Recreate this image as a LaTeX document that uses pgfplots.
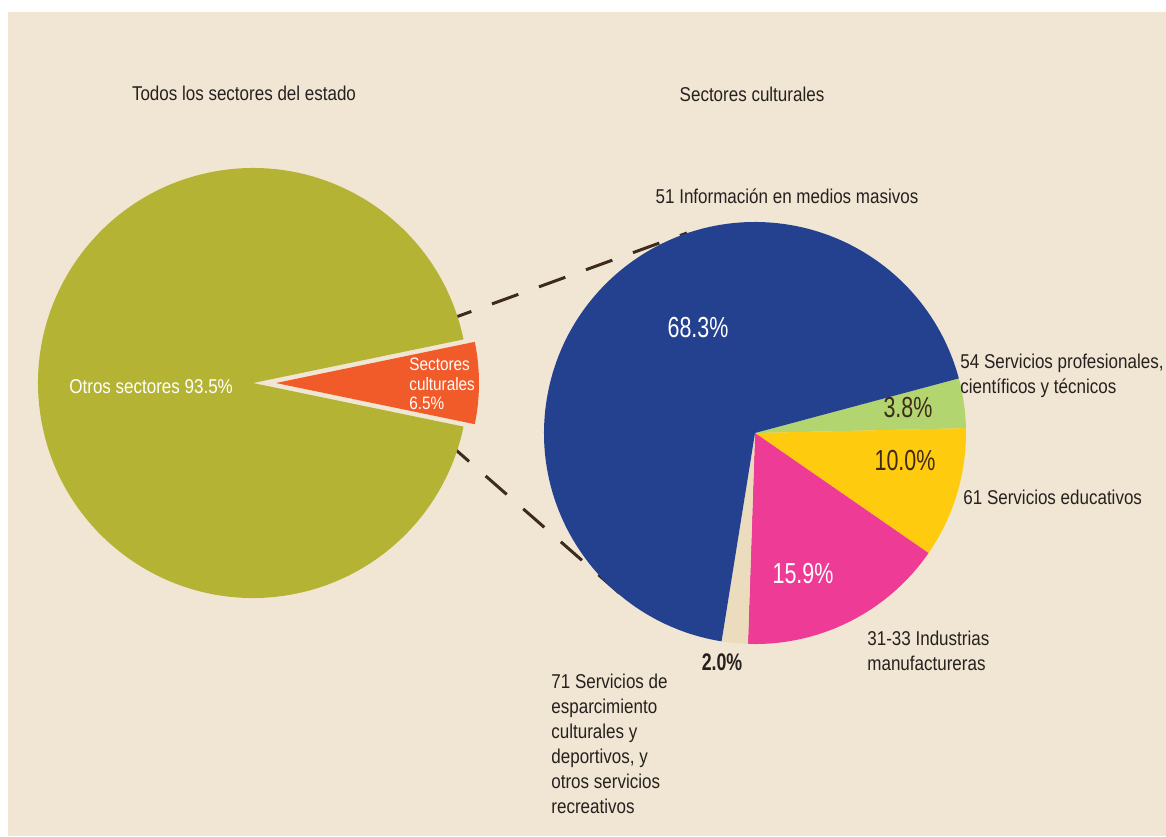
\documentclass[border=0pt]{standalone}
\usepackage{pgfplots}
\pgfplotsset{compat=1.18}
\usepackage{fontspec}
\setmainfont{Liberation Sans}[FakeStretch=0.85]
\newfontfamily\pctfont{Liberation Sans}[FakeStretch=0.74]
\definecolor{bg}{RGB}{241,230,212}
\definecolor{cOlive}{RGB}{181,179,52}
\definecolor{cOrange}{RGB}{241,90,41}
\definecolor{cBlue}{RGB}{36,65,144}
\definecolor{cGreen}{RGB}{178,213,111}
\definecolor{cYellow}{RGB}{255,203,14}
\definecolor{cPink}{RGB}{238,59,150}
\definecolor{cBeige}{RGB}{234,220,188}
\definecolor{txt}{RGB}{38,33,30}
\definecolor{pdark}{RGB}{62,42,26}
\definecolor{cDash}{RGB}{62,42,30}
% data (percent)
\def\vOtros{93.5}
\def\vCult{6.5}
\def\vInfo{68.3}
\def\vProf{3.8}
\def\vEdu{10.0}
\def\vInd{15.9}
\def\vEsp{2.0}
\pgfmathsetmacro\hA{3.6*\vCult/2}
\pgfmathsetmacro\hB{360-\hA}
\pgfmathsetmacro\hC{-\hA}
\pgfmathsetmacro\aO{15}
\pgfmathsetmacro\aA{\aO-3.6*\vProf}
\pgfmathsetmacro\aB{\aA-3.6*\vEdu}
\pgfmathsetmacro\aC{\aB-3.6*\vInd}
\pgfmathsetmacro\aD{\aC-3.6*\vEsp}
\pgfmathsetmacro\aE{\aD-3.6*\vInfo}
\begin{document}
\begin{tikzpicture}
\begin{axis}[x=0.5pt, y=0.5pt, xmin=0, xmax=1166, ymin=0, ymax=836,
  y dir=reverse, hide axis, clip=false]
% background
\fill[white] (axis cs:0,0) rectangle (axis cs:1166,836);
\fill[bg] (axis cs:8,12) rectangle (axis cs:1166,836);
% connector lines
\draw[cDash, line width=1.5pt, dash pattern=on 14pt off 11pt] (axis cs:445,321) -- (axis cs:687,233);
\draw[cDash, line width=1.5pt, dash pattern=on 14pt off 11pt] (axis cs:448,443) -- (axis cs:625,598);
% left pie
\fill[cOlive] (axis cs:253,383) -- ++(\hA:107.5pt) arc[start angle=\hA, end angle=\hB, radius=107.5pt] -- cycle;
\fill[cOrange] (axis cs:276,383) -- ++(\hC:101.5pt) arc[start angle=\hC, end angle=\hA, radius=101.5pt] -- cycle;
% right pie
\fill[cGreen] (axis cs:755,433) -- ++(\aO:105.5pt) arc[start angle=\aO, end angle=\aA, radius=105.5pt] -- cycle;
\fill[cYellow] (axis cs:755,433) -- ++(\aA:105.5pt) arc[start angle=\aA, end angle=\aB, radius=105.5pt] -- cycle;
\fill[cPink] (axis cs:755,433) -- ++(\aB:105.5pt) arc[start angle=\aB, end angle=\aC, radius=105.5pt] -- cycle;
\fill[cBeige] (axis cs:755,433) -- ++(\aC:105.5pt) arc[start angle=\aC, end angle=\aD, radius=105.5pt] -- cycle;
\fill[cBlue] (axis cs:755,433) -- ++(\aD:105.5pt) arc[start angle=\aD, end angle=\aE, radius=105.5pt] -- cycle;
% titles and labels
\tikzset{lab/.style={inner sep=0pt, text=txt, font=\fontsize{10}{12}\selectfont}}
\node[lab, anchor=base] at (axis cs:244,100) {Todos los sectores del estado};
\node[lab, anchor=base] at (axis cs:752,101) {Sectores culturales};
\node[lab, anchor=base] at (axis cs:787,203) {51 Información en medios masivos};
\node[lab, anchor=base west] at (axis cs:960,368) {54 Servicios profesionales,};
\node[lab, anchor=base west] at (axis cs:960,393) {científicos y técnicos};
\node[lab, anchor=base west] at (axis cs:963,504) {61 Servicios educativos};
\node[lab, anchor=base west] at (axis cs:867,645) {31-33 Industrias};
\node[lab, anchor=base west] at (axis cs:867,670) {manufactureras};
\node[lab, anchor=base west] at (axis cs:551,688) {71 Servicios de};
\node[lab, anchor=base west] at (axis cs:551,713) {esparcimiento};
\node[lab, anchor=base west] at (axis cs:551,738) {culturales y};
\node[lab, anchor=base west] at (axis cs:551,763) {deportivos, y};
\node[lab, anchor=base west] at (axis cs:551,788) {otros servicios};
\node[lab, anchor=base west] at (axis cs:551,813) {recreativos};
\node[lab, anchor=base west, text=white] at (axis cs:69,393) {Otros sectores 93.5\%};
\tikzset{olab/.style={inner sep=0pt, text=white, anchor=base west, font=\fontsize{9}{11}\selectfont}}
\node[olab] at (axis cs:409,370) {Sectores};
\node[olab] at (axis cs:409,390) {culturales};
\node[olab] at (axis cs:409,409) {6.5\%};
% percentages
\tikzset{pct/.style={inner sep=0pt, anchor=base, font=\pctfont\fontsize{14.5}{16}\selectfont}}
\node[pct, text=white] at (axis cs:698,337) {68.3\%};
\node[pct, text=pdark] at (axis cs:908,417) {3.8\%};
\node[pct, text=pdark] at (axis cs:905,470) {10.0\%};
\node[pct, text=white] at (axis cs:803,583) {15.9\%};
\node[inner sep=0pt, anchor=base, text=txt, font=\pctfont\bfseries\fontsize{12}{14}\selectfont] at (axis cs:722,670) {2.0\%};
\end{axis}
\pgfresetboundingbox
\path[use as bounding box] (0,0) rectangle (583pt,418pt);
\end{tikzpicture}
\end{document}
